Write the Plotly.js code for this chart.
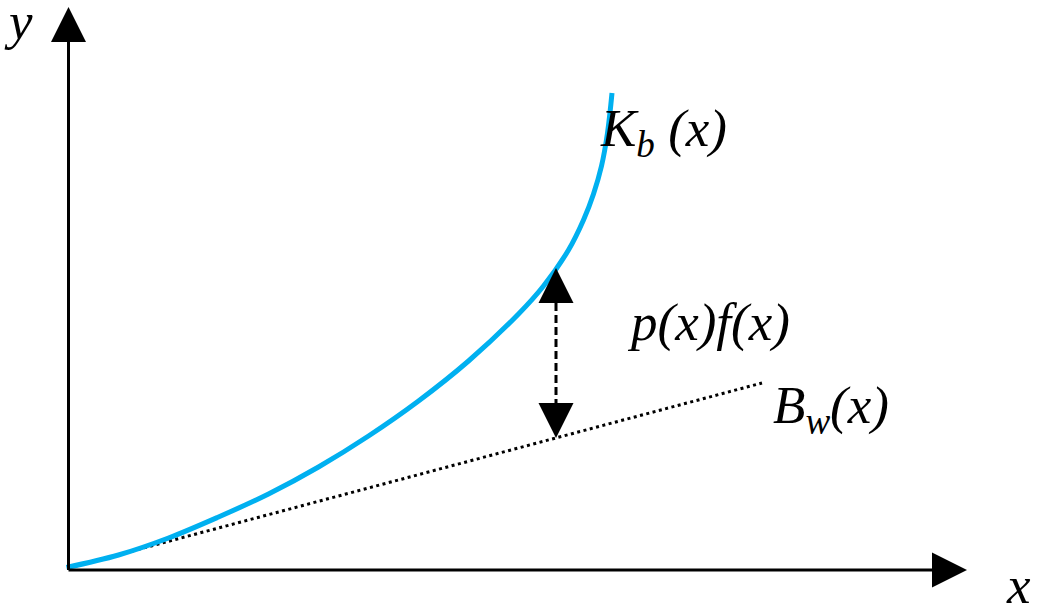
<!DOCTYPE html>
<html>
<head>
<meta charset="utf-8">
<script src="https://cdn.plot.ly/plotly-3.0.1.min.js"></script>
<style>html,body{margin:0;padding:0;background:#fff;}#chart{width:1041px;height:615px;}</style>
</head>
<body>
<div id="chart"></div>
<script>
// Data (units: 1 unit = 100 px of the drawing, origin at the axes corner)
const kbX = [-0.02, 0.5, 1.0, 1.5, 2.0, 2.5, 3.0, 3.5, 4.0, 4.5, 4.75, 5.0, 5.15, 5.25, 5.33, 5.39, 5.435];
const kbY = [0.025, 0.15, 0.32, 0.53, 0.76, 1.03, 1.34, 1.69, 2.09, 2.56, 2.84, 3.20, 3.50, 3.76, 4.04, 4.37, 4.77];
const bwX = [0.0, 6.935];
const bwY = [0.02, 1.87];
const gapX = 4.875;              // position of the p(x)f(x) arrow
const gapTop = 3.02, gapBottom = 1.32;
const axisXEnd = 8.985, axisYEnd = 5.63;
const labels = {
  y: "<i>y</i>",
  x: "<i>x</i>",
  kb: "<i>K<sub>b</sub> (x)</i>",
  pf: "<i>p(x)f(x)</i>",
  bw: "<i>B<sub>w</sub>(x)</i>"
};

const HEAD = 0.35, HALF = 0.175;
function triUp(x, tipY) { return `M${x},${tipY} L${x-HALF},${tipY-HEAD} L${x+HALF},${tipY-HEAD} Z`; }
function triDown(x, tipY) { return `M${x},${tipY} L${x-HALF},${tipY+HEAD} L${x+HALF},${tipY+HEAD} Z`; }
function triRight(tipX, y) { return `M${tipX},${y} L${tipX-HEAD},${y-HALF} L${tipX-HEAD},${y+HALF} Z`; }

const traces = [
  {x: bwX, y: bwY, mode: 'lines', line: {color: '#000', width: 3, dash: '3px,3.5px'}, hoverinfo: 'skip'},
  {x: kbX, y: kbY, mode: 'lines', line: {color: '#00b0f0', width: 5, shape: 'spline', smoothing: 1}, hoverinfo: 'skip'}
];

const blk = {color: '#000', width: 0};
const shapes = [
  {type: 'line', x0: 0, y0: 0, x1: 0, y1: axisYEnd - HEAD, line: {color: '#000', width: 3}},
  {type: 'line', x0: 0, y0: 0, x1: axisXEnd - HEAD, y1: 0, line: {color: '#000', width: 3}},
  {type: 'path', path: triUp(0, axisYEnd), fillcolor: '#000', line: blk},
  {type: 'path', path: triRight(axisXEnd, 0), fillcolor: '#000', line: blk},
  {type: 'line', x0: gapX, y0: gapTop - HEAD, x1: gapX, y1: gapBottom + HEAD, line: {color: '#000', width: 3, dash: '8px,4px'}},
  {type: 'path', path: triUp(gapX, gapTop), fillcolor: '#000', line: blk},
  {type: 'path', path: triDown(gapX, gapBottom), fillcolor: '#000', line: blk}
];

const font = {family: '"Liberation Serif", "Times New Roman", serif', size: 53, color: '#000'};
function ann(text, x, y, ya) {
  return {text: text, x: x, y: y, xref: 'x', yref: 'y', showarrow: false, xanchor: 'left', yanchor: ya || 'middle', borderpad: 0, font: font};
}
const annotations = [
  ann(labels.y, -0.66, 5.49),
  ann(labels.x, 9.36, -0.45, 'bottom'),
  ann(labels.kb, 5.30, 4.38),
  ann(labels.pf, 5.57, 2.48),
  ann(labels.bw, 7.03, 1.61)
];

const layout = {
  width: 1041, height: 615,
  margin: {l: 0, r: 0, t: 0, b: 0},
  paper_bgcolor: '#fff', plot_bgcolor: '#fff',
  showlegend: false,
  xaxis: {range: [-0.685, 9.725], visible: false, fixedrange: true},
  yaxis: {range: [-0.45, 5.70], visible: false, fixedrange: true},
  shapes: shapes,
  annotations: annotations
};
Plotly.newPlot('chart', traces, layout, {staticPlot: true, displayModeBar: false});
</script>
</body>
</html>
